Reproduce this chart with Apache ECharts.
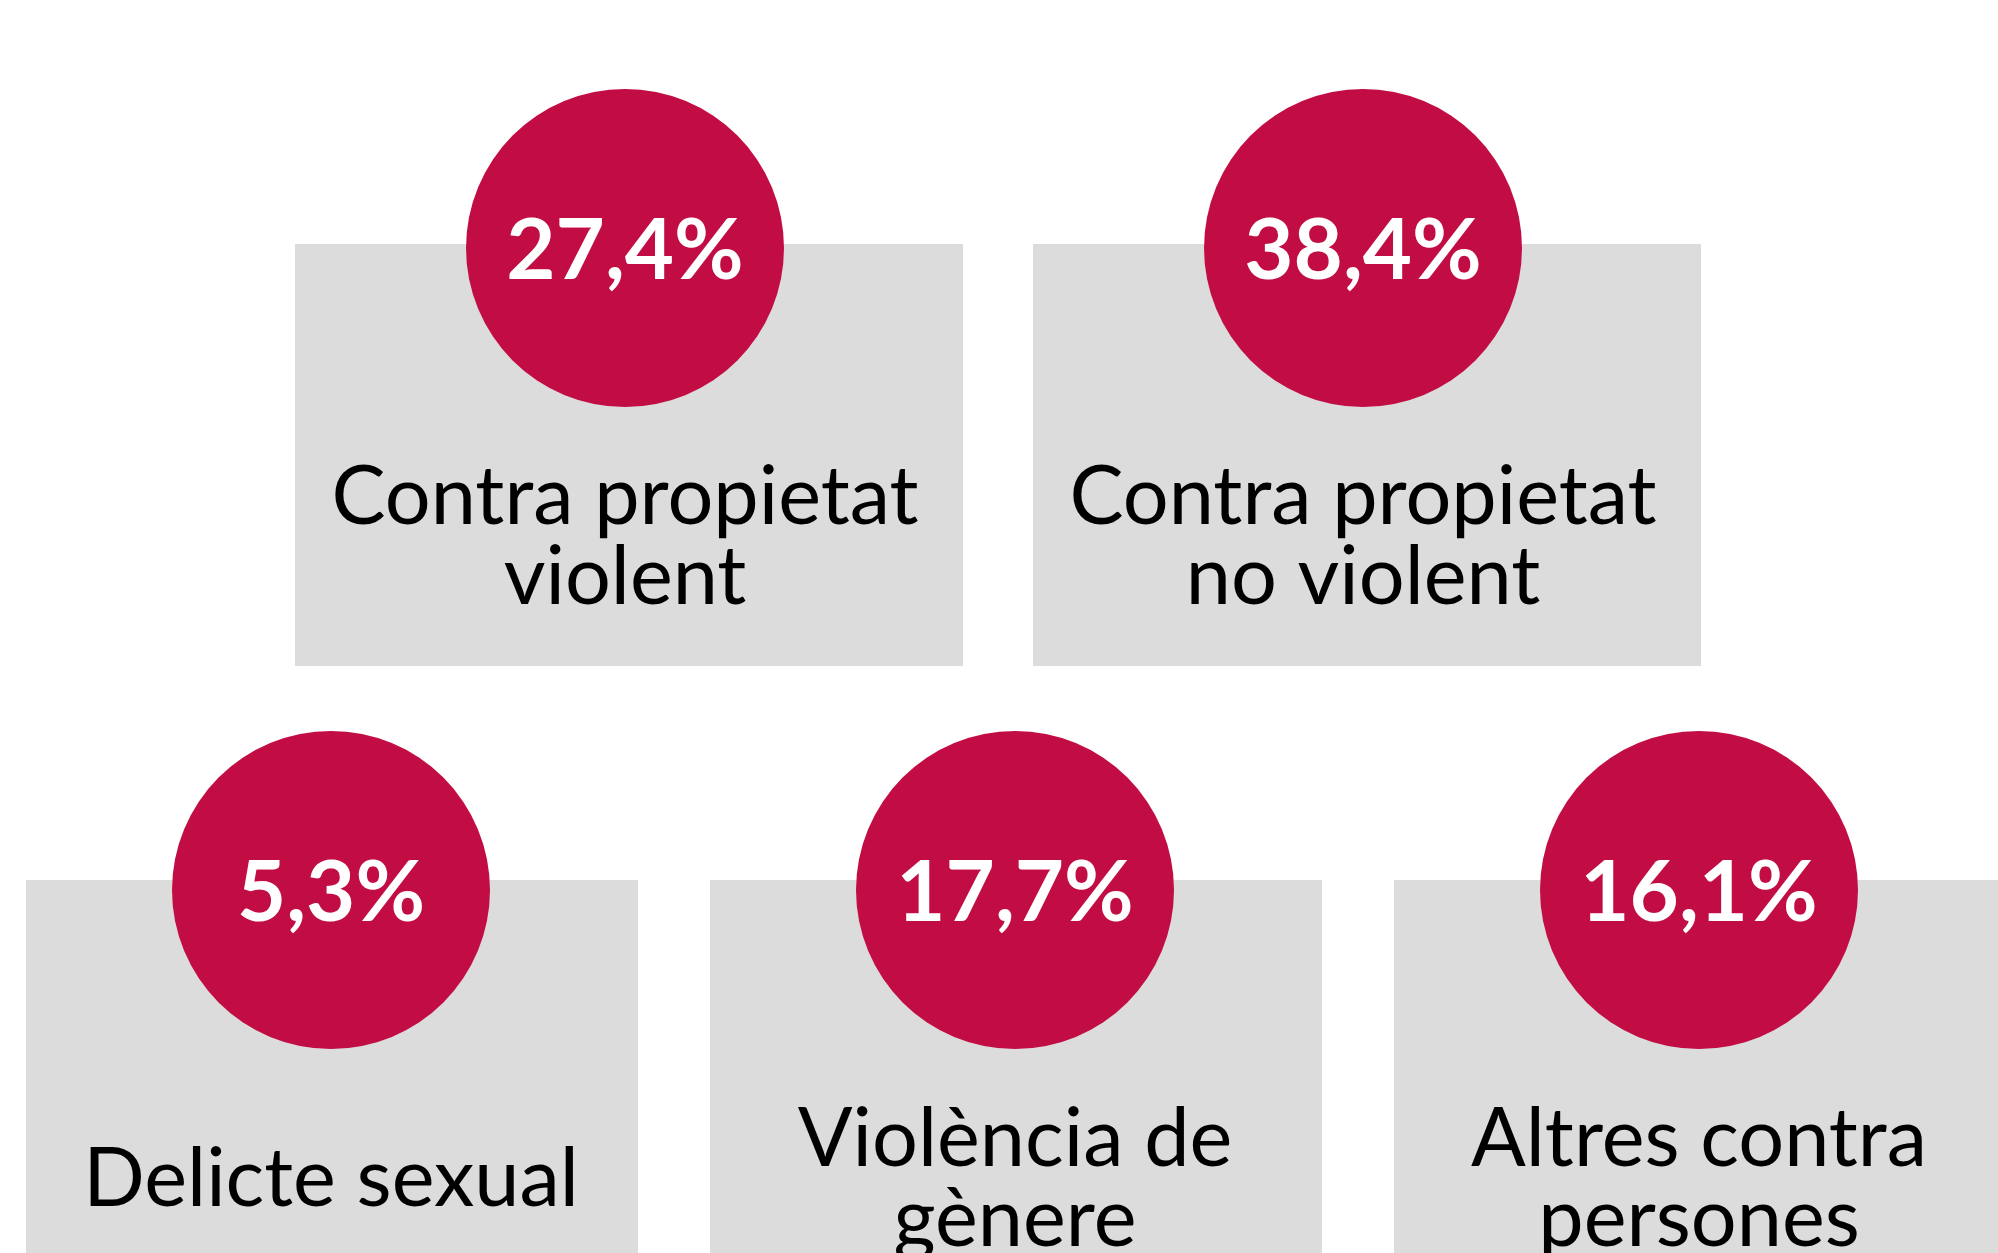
<!DOCTYPE html>
<html>
<head>
<meta charset="utf-8">
<script src="https://cdn.jsdelivr.net/npm/echarts@6/dist/echarts.min.js"></script>
<style>
  html, body { margin: 0; padding: 0; background: #ffffff; }
  #chart { width: 1998px; height: 1253px; }
</style>
</head>
<body>
<div id="chart"></div>
<script>
// dades
const topCategories = ['Contra propietat\nviolent', 'Contra propietat\nno violent'];
const topValues = [27.4, 38.4];
const bottomCategories = ['Delicte sexual', 'Violència de\ngènere', 'Altres contra\npersones'];
const bottomValues = [5.3, 17.7, 16.1];

const RED = '#c20d44';
const GREY = '#dcdcdc';

function fmt(v) {
  return v.toFixed(1).replace('.', ',') + '%';
}

// cada targeta: caixa grisa, cercle vermell, percentatge i etiqueta
function cardRenderer(cats, boxLeft, boxW, boxTop, boxH) {
  return function (params, api) {
    const idx = api.value(0);
    const c = api.coord([idx, 1]);
    return {
      type: 'group',
      children: [
        {
          type: 'rect',
          shape: { x: c[0] + boxLeft, y: c[1] + boxTop, width: boxW, height: boxH },
          style: { fill: GREY }
        },
        {
          type: 'circle',
          shape: { cx: c[0], cy: c[1], r: 159 },
          style: { fill: RED }
        },
        {
          type: 'text',
          style: {
            x: c[0], y: c[1] + 4,
            text: fmt(api.value(1)),
            fill: '#fff',
            font: 'bold 85px Lato',
            align: 'center',
            verticalAlign: 'middle'
          }
        },
        {
          type: 'text',
          style: {
            x: c[0], y: c[1] + 290,
            text: cats[idx],
            fill: '#000',
            font: '81px Lato',
            lineHeight: 80,
            align: 'center',
            verticalAlign: 'middle'
          }
        }
      ]
    };
  };
}

const chart = echarts.init(document.getElementById('chart'));
chart.setOption({
  animation: false,
  grid: [
    { left: 625, right: 635, top: 248, height: 100 },
    { left: 331, right: 299, top: 890, height: 100 }
  ],
  xAxis: [
    { gridIndex: 0, type: 'category', data: topCategories, boundaryGap: false, show: false },
    { gridIndex: 1, type: 'category', data: bottomCategories, boundaryGap: false, show: false }
  ],
  yAxis: [
    { gridIndex: 0, type: 'value', min: 0, max: 1, show: false },
    { gridIndex: 1, type: 'value', min: 0, max: 1, show: false }
  ],
  series: [
    {
      type: 'custom',
      xAxisIndex: 0, yAxisIndex: 0,
      clip: false,
      data: topValues.map((v, i) => [i, v]),
      renderItem: cardRenderer(topCategories, -330, 668, -4, 422)
    },
    {
      type: 'custom',
      xAxisIndex: 1, yAxisIndex: 1,
      clip: false,
      data: bottomValues.map((v, i) => [i, v]),
      renderItem: cardRenderer(bottomCategories, -305, 612, -10, 420)
    }
  ]
});
</script>
</body>
</html>
